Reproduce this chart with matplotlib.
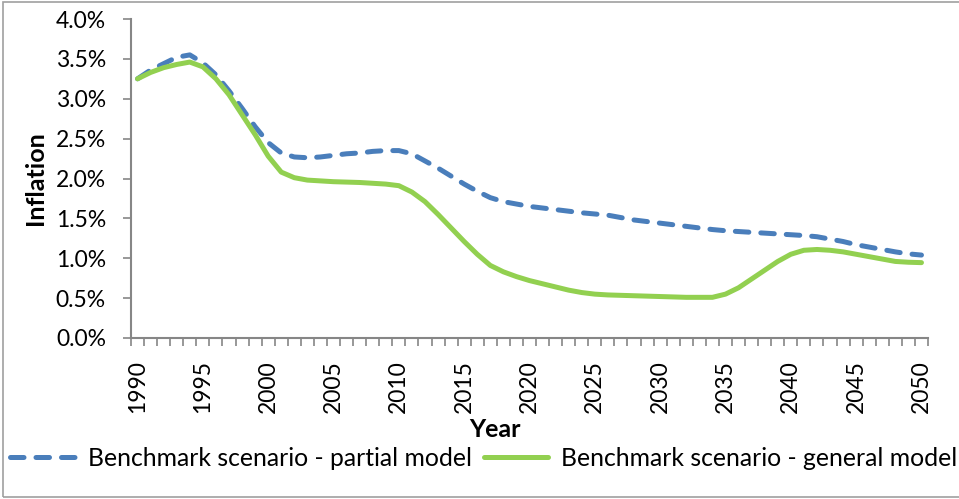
import matplotlib.pyplot as plt
from matplotlib.patches import Rectangle
from matplotlib.ticker import FuncFormatter, MultipleLocator

plt.rcParams['font.family'] = ['Lato', 'DejaVu Sans']

years = list(range(1990, 2051))

# inflation (%) - partial model
partial = [3.25, 3.36, 3.44, 3.52, 3.55, 3.45, 3.30, 3.10, 2.88, 2.65,
           2.45, 2.32, 2.27, 2.26, 2.27, 2.29, 2.31, 2.32, 2.34, 2.35,
           2.35, 2.31, 2.22, 2.13, 2.03, 1.93, 1.84, 1.76, 1.71, 1.68,
           1.65, 1.63, 1.61, 1.59, 1.57, 1.555, 1.54, 1.51, 1.48, 1.46,
           1.44, 1.42, 1.40, 1.38, 1.36, 1.345, 1.335, 1.325, 1.315, 1.305,
           1.295, 1.285, 1.27, 1.24, 1.21, 1.17, 1.14, 1.11, 1.08, 1.055,
           1.04]

# inflation (%) - general model
general = [3.25, 3.33, 3.39, 3.43, 3.46, 3.40, 3.25, 3.05, 2.80, 2.55,
           2.28, 2.08, 2.01, 1.98, 1.97, 1.96, 1.955, 1.95, 1.94, 1.93,
           1.91, 1.83, 1.71, 1.55, 1.38, 1.21, 1.05, 0.91, 0.83, 0.77,
           0.72, 0.68, 0.64, 0.60, 0.57, 0.55, 0.54, 0.535, 0.53, 0.525,
           0.52, 0.515, 0.51, 0.51, 0.51, 0.55, 0.63, 0.74, 0.85, 0.96,
           1.05, 1.10, 1.11, 1.10, 1.08, 1.05, 1.02, 0.99, 0.96, 0.95,
           0.945]

fig = plt.figure(figsize=(9.59, 4.99), dpi=100)
ax = fig.add_axes([131 / 959, 161 / 499, 797 / 959, 319 / 499])

ax.plot(years, partial, color='#4A7EBB', lw=3.6, dashes=(2.7, 2.4),
        dash_capstyle='round', label='Benchmark scenario - partial model')
ax.plot(years, general, color='#92D050', lw=3.6, solid_capstyle='round',
        label='Benchmark scenario - general model')

ax.set_xlim(1989.5, 2050.5)
ax.set_ylim(0, 4.0)

ax.yaxis.set_major_locator(MultipleLocator(0.5))
ax.yaxis.set_major_formatter(FuncFormatter(lambda v, p: f'{v:.1f}%'))
ax.set_xticks(range(1990, 2051, 5))
ax.set_xticks([y + 0.5 for y in range(1989, 2051)], minor=True)
ax.tick_params(axis='x', which='major', length=0, pad=16, rotation=90, labelsize=16.5)
ax.tick_params(axis='x', which='minor', length=6, width=1.2, color='#868686')
ax.tick_params(axis='y', length=6, width=1.2, color='#868686', pad=12, labelsize=16.5)

for side in ['top', 'right']:
    ax.spines[side].set_visible(False)
for side in ['left', 'bottom']:
    ax.spines[side].set_color('#868686')
    ax.spines[side].set_linewidth(1.5)

ax.set_ylabel('Inflation', fontsize=18, fontweight='bold', labelpad=6)
ax.set_xlabel('Year', fontsize=18, fontweight='bold')
ax.xaxis.set_label_coords((495 - 131) / 797, -0.252)

fig.legend(loc='center', bbox_to_anchor=(484 / 959, 1 - 458 / 499), ncol=2,
           frameon=False, fontsize=17.8, handlelength=2.6, handletextpad=0.53,
           columnspacing=0.49)

fig.patches.append(Rectangle((3 / 959, 2 / 499), 1.0, 495 / 499,
                             transform=fig.transFigure, fill=False,
                             edgecolor='#a0a0a0', lw=1.2))

fig.savefig('out.png', dpi=100)
